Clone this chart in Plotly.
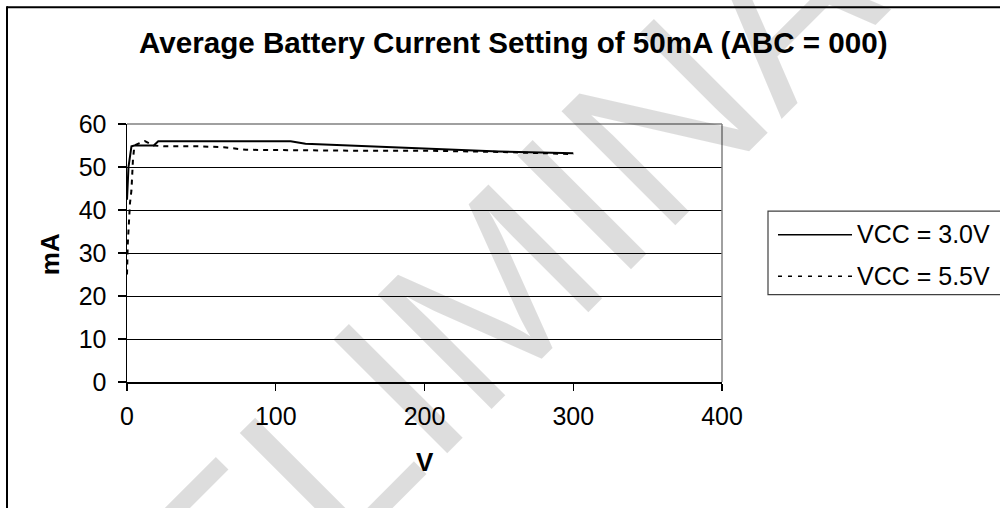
import plotly.graph_objects as go

# ---------------- data ----------------
series_names = ["VCC = 3.0V", "VCC = 5.5V"]

v_3v0 = [0, 1, 2, 3, 5, 10, 15, 18, 21, 50, 100, 110, 120, 150, 200, 250, 300]
i_3v0 = [42.4, 50, 52.4, 54.8, 55, 55, 55, 55, 56, 56, 56, 56, 55.4, 55, 54.2, 53.6, 53.2]

v_5v5 = [0, 0.5, 2, 3, 4, 5, 8, 12, 18, 25, 50, 65, 80, 100, 150, 200, 250, 300]
i_5v5 = [25, 32, 41.6, 44.6, 51.7, 55, 55.5, 56, 55, 54.8, 54.8, 54.6, 54, 53.9, 53.8, 53.8, 53.5, 53]

x_ticks = [0, 100, 200, 300, 400]
y_ticks = [0, 10, 20, 30, 40, 50, 60]

title_text = "Average Battery Current Setting of 50mA (ABC = 000)"
x_title = "V"
y_title = "mA"
watermark = "PRELIMINARY"

# ---------------- layout geometry (page pixels) ----------------
W, H = 1000, 508
L_, T_, R_, B_ = 127, 124, 722, 381.7
ML, MT = L_, T_
MR, MB = W - R_, H - B_
PW, PH = R_ - L_, B_ - T_

def px(x):
    return (x - L_) / PW

def py(y):
    return (B_ - y) / PH

FONT = "Liberation Sans, Arial, sans-serif"

fig = go.Figure()
fig.add_trace(go.Scatter(x=v_3v0, y=i_3v0, mode="lines", name=series_names[0],
                         line=dict(color="black", width=2)))
fig.add_trace(go.Scatter(x=v_5v5, y=i_5v5, mode="lines", name=series_names[1],
                         line=dict(color="black", width=2, dash="5px,5px")))

shapes = []
# plot area border (grey top and right edges, drawn over the top gridline)
shapes.append(dict(type="line", xref="paper", yref="paper", x0=0, x1=1, y0=1, y1=1,
                   line=dict(color="#808080", width=1.5), layer="above"))
shapes.append(dict(type="line", xref="paper", yref="paper", x0=1, x1=1, y0=0, y1=1,
                   line=dict(color="#808080", width=1.5), layer="above"))
# outer chart border (left and top edges; right/bottom lie outside the view)
shapes.append(dict(type="line", xref="paper", yref="paper", x0=px(7), x1=px(1010),
                   y0=py(7.5), y1=py(7.5), line=dict(color="black", width=2)))
shapes.append(dict(type="line", xref="paper", yref="paper", x0=px(7), x1=px(7),
                   y0=py(520), y1=py(6.5), line=dict(color="black", width=2)))
# legend box
shapes.append(dict(type="rect", xref="paper", yref="paper", x0=px(768), x1=px(1030),
                   y0=py(294.5), y1=py(211), line=dict(color="#404040", width=1.2),
                   fillcolor="white"))
# legend samples
shapes.append(dict(type="line", xref="paper", yref="paper", x0=px(778), x1=px(852),
                   y0=py(234.5), y1=py(234.5), line=dict(color="black", width=1.5)))
shapes.append(dict(type="line", xref="paper", yref="paper", x0=px(778), x1=px(852),
                   y0=py(276), y1=py(276), line=dict(color="black", width=1.5, dash="4px,6px")))

annotations = [
    dict(text=watermark, xref="paper", yref="paper", x=px(502), y=py(284),
         xanchor="center", yanchor="middle",
         showarrow=False, textangle=-45,
         font=dict(family=FONT, size=234, color="rgba(0,0,0,0.135)")),
    dict(text="<b>%s</b>" % title_text, xref="paper", yref="paper", x=px(513), y=py(43),
         xanchor="center", yanchor="middle", showarrow=False,
         font=dict(family=FONT, size=29.6, color="black")),
    dict(text="<b>%s</b>" % x_title, xref="paper", yref="paper", x=px(425), y=py(462),
         xanchor="center", yanchor="middle", showarrow=False,
         font=dict(family=FONT, size=26, color="black")),
    dict(text="<b>%s</b>" % y_title, xref="paper", yref="paper", x=px(50), y=py(254),
         xanchor="center", yanchor="middle", showarrow=False, textangle=-90,
         font=dict(family=FONT, size=26, color="black")),
    dict(text=series_names[0], xref="paper", yref="paper", x=px(855), y=py(234),
         xanchor="left", yanchor="middle", showarrow=False,
         font=dict(family=FONT, size=25, color="black")),
    dict(text=series_names[1], xref="paper", yref="paper", x=px(855), y=py(276),
         xanchor="left", yanchor="middle", showarrow=False,
         font=dict(family=FONT, size=25, color="black")),
]

fig.update_layout(
    width=W, height=H,
    margin=dict(l=ML, r=MR, t=MT, b=MB, pad=0),
    paper_bgcolor="white", plot_bgcolor="white",
    showlegend=False,
    font=dict(family=FONT, size=25, color="black"),
    shapes=shapes,
    annotations=annotations,
)
fig.update_xaxes(range=[0, 400], tickvals=x_ticks, ticktext=[str(t) for t in x_ticks],
                 showgrid=False, zeroline=False, showline=True, linecolor="black", linewidth=1.5,
                 ticks="outside", ticklen=7, tickcolor="black", tickwidth=1.2,
                 tickfont=dict(family=FONT, size=25), ticklabelstandoff=4)
fig.update_yaxes(range=[0, 60], tickvals=y_ticks, ticktext=[str(t) for t in y_ticks],
                 showgrid=True, gridcolor="black", gridwidth=1, zeroline=False,
                 showline=True, linecolor="black", linewidth=1.5,
                 ticks="outside", ticklen=8, tickcolor="black", tickwidth=1.2,
                 tickfont=dict(family=FONT, size=25), ticklabelstandoff=6)

fig.write_html("out.html",
               config={"displayModeBar": False, "staticPlot": True},
               post_script="document.body.style.margin='0';document.body.style.overflow='hidden';")
